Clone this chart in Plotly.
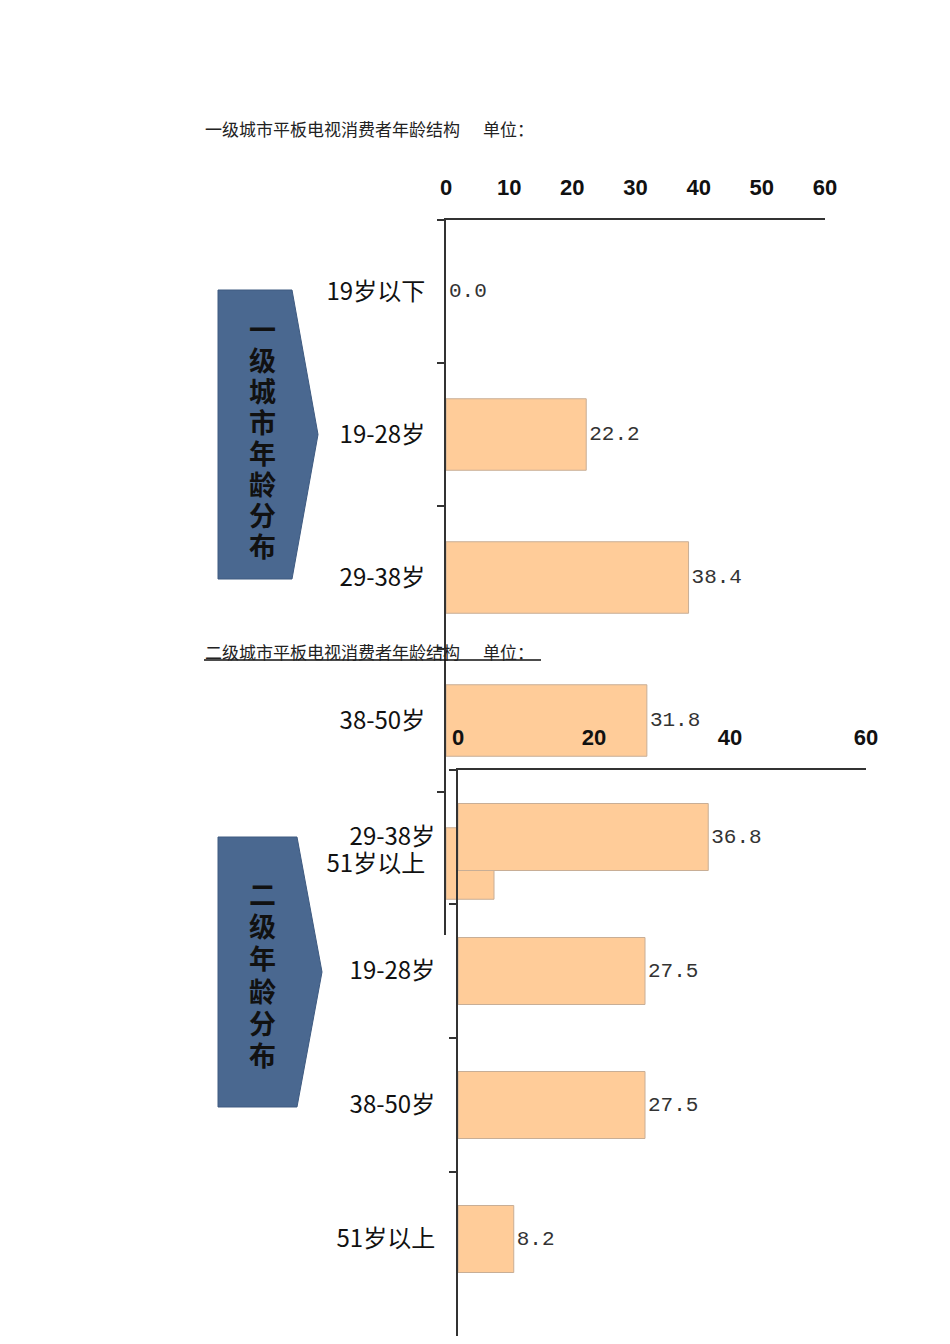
import plotly.graph_objects as go

VW, VH = 950, 1344  # browser window
OFF = 8  # page margin around the plot div
W, H = VW - 2 * OFF, VH - 2 * OFF

# chart 1: first-tier cities
cats1 = ['19岁以下', '19-28岁', '29-38岁', '38-50岁', '51岁以上']
vals1 = [0.0, 22.2, 38.4, 31.8, 7.6]
# chart 2: second-tier cities
cats2 = ['29-38岁', '19-28岁', '38-50岁', '51岁以上']
vals2 = [36.8, 27.5, 27.5, 8.2]

title1 = '一级城市平板电视消费者年龄结构'
title2 = '二级城市平板电视消费者年龄结构'
unit_text = '单位：'
banner1 = '一级城市年龄分布'
banner2 = '二级年龄分布'

bar_fill = '#FFCC99'
bar_edge = '#C8AE96'
axis_col = '#333333'
banner_col = '#4A6890'
cjk = 'Noto Sans CJK SC'


def px(x):
    return (x - OFF) / W


def py(y):
    return 1 - (y - OFF) / H


fig = go.Figure()

for vals, cats, xa, ya in [(vals1, cats1, 'x', 'y'), (vals2, cats2, 'x2', 'y2')]:
    fig.add_trace(go.Bar(
        x=vals, y=cats, orientation='h',
        xaxis=xa, yaxis=ya,
        marker=dict(color=bar_fill,
                    line=dict(color=bar_edge,
                              width=[0 if v == 0 else 1 for v in vals])),
        text=[f'{v:.1f}' for v in vals], textposition='outside',
        textfont=dict(family='Liberation Mono', size=21, color='#333'),
        cliponaxis=False, showlegend=False
    ))

xcommon = dict(range=[0, 60], side='top', showline=True, linecolor=axis_col,
               linewidth=2, showgrid=False, zeroline=False, ticks='',
               ticklabelstandoff=14, automargin=False,
               tickfont=dict(family='Liberation Sans', size=22, color='#111',
                             weight='bold'))
ycommon = dict(type='category', showline=True, linecolor=axis_col, linewidth=2,
               showgrid=False, zeroline=False, ticks='outside', ticklen=7,
               tickcolor=axis_col, tickwidth=2, tickson='boundaries',
               automargin=False)

fig.update_layout(
    width=W, height=H,
    margin=dict(l=0, r=0, t=0, b=0, pad=0),
    paper_bgcolor='white', plot_bgcolor='rgba(0,0,0,0)',
    bargap=0.5,
    xaxis=dict(domain=[px(446), px(825)], anchor='y', dtick=10, **xcommon),
    yaxis=dict(domain=[py(935), py(220)], anchor='x', range=[4.5, -0.5],
               categoryorder='array', categoryarray=cats1,
               ticklabelstandoff=14,
               tickfont=dict(family=cjk, size=24, color='#111'), **ycommon),
    xaxis2=dict(domain=[px(458), px(866)], anchor='y2', dtick=20, **xcommon),
    yaxis2=dict(domain=[0, py(770)], anchor='x2',
                range=[(H + OFF - 770) / 134 - 0.5, -0.5],
                categoryorder='array', categoryarray=cats2,
                ticklabelstandoff=16,
                tickfont=dict(family=cjk, size=24, color='#111'), **ycommon),
)

# titles
for ty, t in [(128, title1), (651, title2)]:
    fig.add_annotation(x=px(203), y=py(ty), xref='paper', yref='paper',
                       text=t, showarrow=False, xanchor='left', yanchor='middle',
                       font=dict(family=cjk, size=17, color='#222'))
    fig.add_annotation(x=px(481), y=py(ty), xref='paper', yref='paper',
                       text=unit_text, showarrow=False, xanchor='left',
                       yanchor='middle',
                       font=dict(family=cjk, size=17, color='#222'))

fig.add_shape(type='line', xref='paper', yref='paper',
              x0=px(204), x1=px(541), y0=py(660), y1=py(660),
              line=dict(color='#111', width=1.5), layer='above')


# arrow banners
def banner(left, top, shoulder, tip, bottom):
    mid = (top + bottom) / 2
    pts = [(left, top), (shoulder, top), (tip, mid), (shoulder, bottom),
           (left, bottom)]
    path = 'M ' + ' L '.join(f'{px(a):.5f},{py(b):.5f}' for a, b in pts) + ' Z'
    fig.add_shape(type='path', xref='paper', yref='paper', path=path,
                  fillcolor=banner_col, line=dict(color='#3E5A80', width=1),
                  layer='above')


banner(218, 290, 292, 318, 579)
banner(218, 837, 297, 322, 1107)

# vertical banner text: line step = 1.3 * base size, glyphs enlarged by span
for first, base, text in [(328, 23.9, banner1), (893, 24.8, banner2)]:
    chars = '<br>'.join(f"<span style='font-size:27px'>{c}</span>" for c in text)
    last = first + (len(text) - 1) * base * 1.3
    fig.add_annotation(x=px(262), y=py((first + last) / 2), xref='paper',
                       yref='paper', text=chars, showarrow=False,
                       xanchor='center', yanchor='middle',
                       font=dict(family=cjk, size=base, color='#111',
                                 weight='bold'))

fig.write_html('out.html')
